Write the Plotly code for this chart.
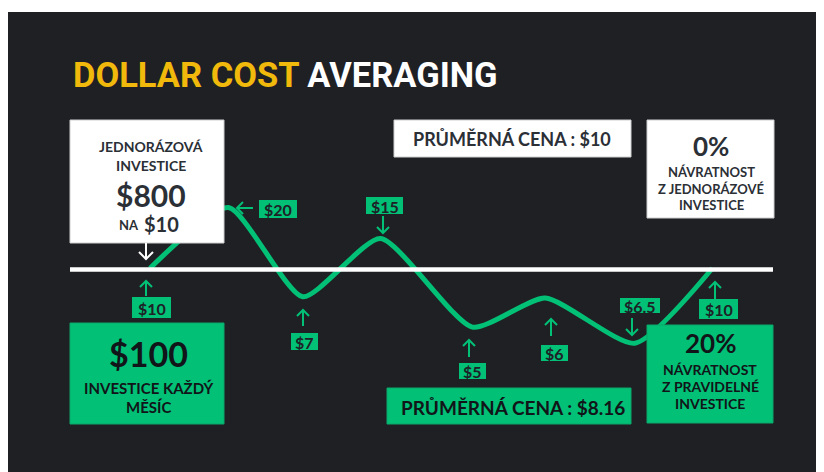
import plotly.graph_objects as go

# ---------------- data ----------------
curve_month = [0, 0.98, 1.91, 2.88, 4.03, 4.94, 6.06, 7.03]      # month position of each turning point
curve_level = [10.2, 20.0, 5.6, 15.0, 0.7, 5.4, -1.9, 10.2]       # drawn height of the price curve
price_labels = ["$10", "$20", "$7", "$15", "$5", "$6", "$6.5", "$10"]
lump_price = 10            # average price of the lump-sum purchase (white line)
lump_amount = "$800"
lump_at = "$10"
monthly_amount = "$100"
avg_price_lump = "$10"
avg_price_dca = "$8.16"
return_lump = "0%"
return_dca = "20%"

# ---------------- styling ----------------
OFF = 8                     # page body margin
W, H = 824 - OFF, 472 - OFF
BG = "#1F2024"
GREEN = "#02C076"
YELLOW = "#F0B90B"
DARK = "#2B2F36"
INK = "#111418"
FONT = "Lato"

def px(x):
    return (x - OFF) / W

def py(y):
    return 1 - (y - OFF) / H

fig = go.Figure()

# price curve
fig.add_trace(go.Scatter(
    x=curve_month, y=curve_level, mode="lines",
    line=dict(color=GREEN, width=5, shape="spline", smoothing=0.6),
    hoverinfo="skip", showlegend=False,
))

shapes = []
annotations = []

# dark panel
shapes.append(dict(type="rect", xref="paper", yref="paper", layer="below",
                   x0=px(8), x1=px(824), y0=py(472), y1=py(12),
                   fillcolor=BG, line=dict(width=0)))

# white average-price line (lump sum at $10)
shapes.append(dict(type="line", xref="paper", yref="y", layer="above",
                   x0=px(70), x1=px(773), y0=lump_price, y1=lump_price,
                   line=dict(color="#FFFFFF", width=4.5)))

def rect(x0, y0, x1, y1, fill, border):
    shapes.append(dict(type="rect", xref="paper", yref="paper", layer="above",
                       x0=px(x0), x1=px(x1), y0=py(y1), y1=py(y0),
                       fillcolor=fill, line=dict(color=border, width=1)))

def text(cx, cy, s, size, color, family=FONT):
    annotations.append(dict(xref="paper", yref="paper", x=px(cx), y=py(cy),
                            xanchor="center", yanchor="middle", showarrow=False,
                            text=s, font=dict(family=family, size=size, color=color)))

def arrow(x0, y0, x1, y1, color, head=6):
    # shaft from (x0,y0) tail to (x1,y1) tip, open chevron head
    if x0 == x1:
        d = 1 if y1 > y0 else -1
        a = (x1 - head, y1 - d * head)
        b = (x1 + head, y1 - d * head)
    else:
        d = 1 if x1 > x0 else -1
        a = (x1 - d * head, y1 - head)
        b = (x1 - d * head, y1 + head)
    path = (f"M {px(x0)},{py(y0)} L {px(x1)},{py(y1)} "
            f"M {px(a[0])},{py(a[1])} L {px(x1)},{py(y1)} L {px(b[0])},{py(b[1])}")
    shapes.append(dict(type="path", xref="paper", yref="paper", layer="above",
                       path=path, line=dict(color=color, width=2)))

# title
annotations.append(dict(xref="paper", yref="paper", x=px(71), y=py(75),
                        xanchor="left", yanchor="middle", showarrow=False,
                        text=f"<b><span style='color:{YELLOW}'>DOLLAR COST</span> AVERAGING</b>",
                        font=dict(family="Roboto", size=34.5, color="#FFFFFF")))

# lump-sum box
rect(70, 120, 224, 243, "#FFFFFF", "#CFCFCF")
text(151, 146, "<b>JEDNORÁZOVÁ</b>", 14, DARK)
text(151, 166, "<b>INVESTICE</b>", 14, DARK)
text(151, 194.5, f"<b>{lump_amount}</b>", 30, DARK)
text(129, 225, "<b>NA</b>", 13, DARK)
text(161, 224, f"<b>{lump_at}</b>", 20, DARK)
arrow(146, 243, 146, 259, "#FFFFFF", head=7)

# monthly box
rect(70, 323, 224, 424, GREEN, "#0AA86A")
text(148, 353, f"<b>{monthly_amount}</b>", 34, INK)
text(148, 388, "<b>INVESTICE KAŽDÝ</b>", 15, INK)
text(148, 407, "<b>MĚSÍC</b>", 15, INK)

# average price boxes
rect(394, 120, 631, 157, "#FFFFFF", "#CFCFCF")
text(512, 139, f"<b>PRŮMĚRNÁ CENA : {avg_price_lump}</b>", 18, DARK)
rect(387, 388, 631, 424, GREEN, "#0AA86A")
text(513, 407, f"<b>PRŮMĚRNÁ CENA : {avg_price_dca}</b>", 19, INK)

# return boxes
rect(647, 120, 774, 218, "#FFFFFF", "#CFCFCF")
text(711, 146, f"<b>{return_lump}</b>", 26, DARK)
text(711, 172, "<b>NÁVRATNOST</b>", 13, DARK)
text(711, 189, "<b>Z JEDNORÁZOVÉ</b>", 13, DARK)
text(711, 205, "<b>INVESTICE</b>", 13, DARK)

rect(647, 325, 773, 423, GREEN, "#0AA86A")
text(710, 343, f"<b>{return_dca}</b>", 26, INK)
text(710, 369, "<b>NÁVRATNOST</b>", 14, INK)
text(710, 386, "<b>Z PRAVIDELNÉ</b>", 14, INK)
text(710, 403, "<b>INVESTICE</b>", 14, INK)

# price tags: (box cx, cy, w, h), arrow (x0, y0, x1, y1)
tag_layout = [
    ((151.5, 307.5, 39, 21), (146, 296, 146, 281)),
    ((278, 209, 38, 18), (253, 208, 237, 208)),
    ((304.5, 341.5, 27, 17), (303, 326, 303, 310)),
    ((384.5, 205.5, 37, 17), (383, 216, 383, 233)),
    ((472.5, 371, 27, 16), (469, 357, 469, 340)),
    ((554.5, 353, 27, 16), (551, 336, 551, 319)),
    ((640, 305.5, 40, 15), (632, 318, 632, 335)),
    ((718.5, 309, 39, 20), (715, 299, 715, 282)),
]
for label, (box, arr) in zip(price_labels, tag_layout):
    cx, cy, w, h = box
    shapes.append(dict(type="rect", xref="paper", yref="paper", layer="above",
                       x0=px(cx - w / 2), x1=px(cx + w / 2), y0=py(cy + h / 2), y1=py(cy - h / 2),
                       fillcolor=GREEN, line=dict(width=0)))
    text(cx, cy + 0.5, f"<b>{label}</b>", 16, "#1E2026")
    arrow(*arr, GREEN, head=6)

fig.update_layout(
    width=W, height=H, autosize=False,
    margin=dict(l=0, r=0, t=0, b=0),
    paper_bgcolor="#FFFFFF", plot_bgcolor="rgba(0,0,0,0)",
    xaxis=dict(visible=False, range=[-1.775, 8.425], fixedrange=True),
    yaxis=dict(visible=False, range=[-22.661, 52.177], fixedrange=True),
    shapes=shapes, annotations=annotations,
    showlegend=False,
)

fig.write_html("out.html", config={"displayModeBar": False})
